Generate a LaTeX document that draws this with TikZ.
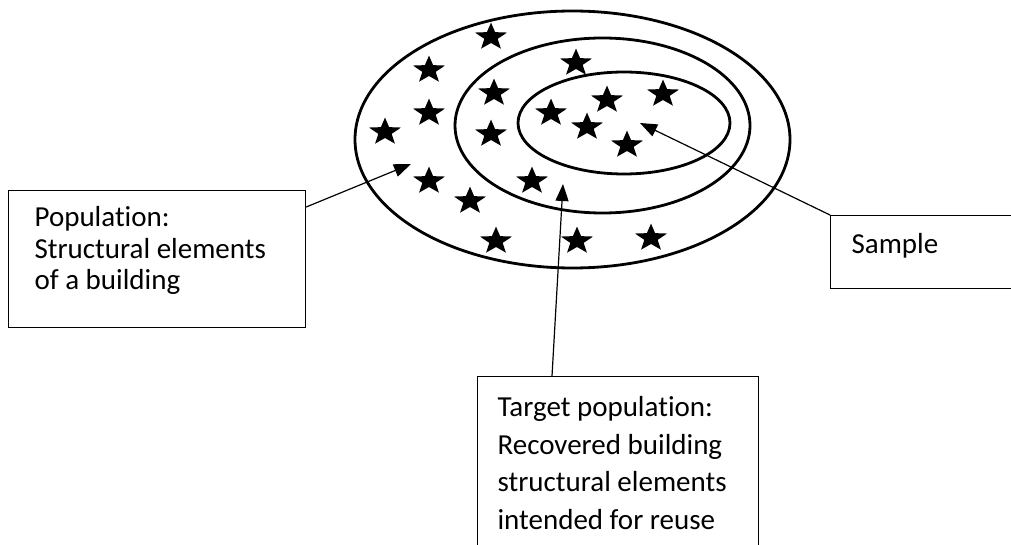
\documentclass[tikz,border=0pt]{standalone}
\usepackage{fontspec}
\setmainfont{Carlito}[Ligatures=NoCommon]
\usepackage{tikz}
\usetikzlibrary{arrows.meta, calc}

\begin{document}
\begin{tikzpicture}[x=1pt, y=-1pt,
  ring/.style={line width=2.8pt},
  textbox/.style={draw=black, line width=1.2pt, anchor=north west, align=flush left, inner xsep=21pt, inner ysep=0pt, font=\fontsize{29}{31.5}\selectfont},
  pointer/.style={line width=1.2pt, -{Triangle[length=17pt, width=13pt]}},
  starmark/.pic={\fill[xscale=1.17] (270:14.4) \foreach \a in {0,72,...,288} {-- (306+\a:6) -- (342+\a:14.4)} -- cycle;}]
\useasboundingbox (0,0) rectangle (1011,545);
\clip (0,0) rectangle (1011,545);

% the three sets
\draw[ring] (572.5,139.5) ellipse [x radius=217.5pt, y radius=128.5pt];
\draw[ring] (602.5,125.5) ellipse [x radius=147.5pt, y radius=87.5pt];
\draw[ring] (624,123) ellipse [x radius=106pt, y radius=51pt];

% elements
\foreach \p in {(491,37),(576,63),(429,70),(494,93),(429,113),(551,113),(607,100),(663,94),(587,127),
                (385,132),(491,134),(627,145),(429,181),(532,181),(470,201),(496,241),(577,241),(651,238)}
  \pic at \p {starmark};

% labels
\node[textbox, inner xsep=26pt, text width=245pt, text height=36pt, text depth=101pt] (popbox) at (8,190) {Population:\\Structural elements\\of a building};
\node[textbox, text width=200pt, text height=38pt, text depth=35pt] (samplebox) at (830,215) {Sample};
\node[textbox, inner xsep=20pt, text width=241pt, text height=40pt, text depth=160pt, font=\fontsize{29}{37.5}\selectfont] (targetbox) at (477,376) {Target population:\\Recovered building\\structural elements\\intended for reuse};

\coordinate (poptip) at (411,164);
\coordinate (samtip) at (640,123);
\coordinate (tartip) at (563,184);

\draw[pointer] ($(popbox.north east)+(0,17)$) -- (poptip);
\draw[pointer] (samplebox.north west) -- (samtip);
\draw[pointer] ($(targetbox.north west)+(75,0)$) -- (tartip);
\end{tikzpicture}
\end{document}
